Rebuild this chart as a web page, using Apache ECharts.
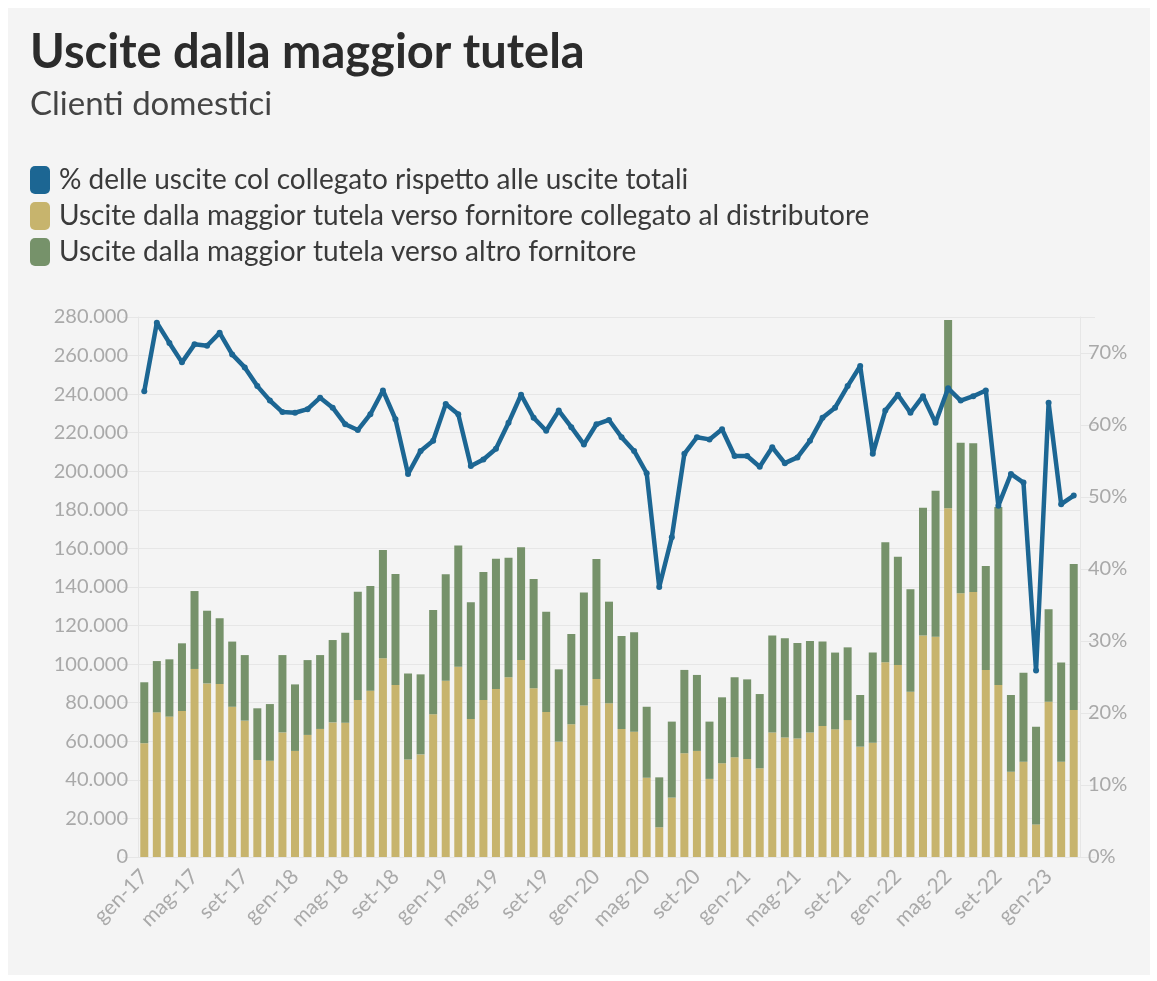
<!DOCTYPE html>
<html>
<head>
<meta charset="utf-8">
<script src="https://cdn.jsdelivr.net/npm/echarts@6/dist/echarts.min.js"></script>
<style>
  body { margin: 0; background: #fff; }
  #wrap { position: relative; width: 1157px; height: 981px; }
  #panel { position: absolute; left: 8px; top: 8px; width: 1142px; height: 967px; background: #f4f4f4; }
  #chart { position: absolute; left: 0; top: 0; width: 1157px; height: 981px; }
</style>
</head>
<body>
<div id="wrap"><div id="panel"></div><div id="chart"></div></div>
<script>
// mesi da gen-17 a mar-23
var mesi = ['gen', 'feb', 'mar', 'apr', 'mag', 'giu', 'lug', 'ago', 'set', 'ott', 'nov', 'dic'];
var anni = ['17', '18', '19', '20', '21', '22', '23'];
var categorie = [];
anni.forEach(function (a) {
    mesi.forEach(function (m) { categorie.push(m + '-' + a); });
});
categorie = categorie.slice(0, 75);

// uscite verso fornitore collegato al distributore
var collegato = [
    59000, 75000, 72800, 75700, 97500, 90000, 89700, 77900, 70700, 50300, 49900, 64600,
    55000, 63300, 66400, 69800, 69600, 81400, 86200, 103000, 89200, 50600, 53200, 74000,
    91400, 98700, 71600, 81400, 87100, 93200, 102100, 87500, 75200, 59800, 68800, 78500,
    92300, 79700, 66400, 65000, 41100, 15400, 30800, 53800, 55000, 40500, 48600, 51700,
    50800, 46000, 64600, 61900, 61500, 64500, 67900, 66200, 71000, 57200, 59300, 101000,
    99600, 85700, 114800, 114200, 180800, 136700, 137400, 97000, 89200, 44200, 49400, 16900,
    80500, 49400, 76200
];
// uscite verso altro fornitore
var altro = [
    31600, 26600, 29700, 35100, 40400, 37700, 34100, 33800, 34000, 26800, 29400, 40100,
    34500, 38800, 38300, 42700, 46700, 56200, 54300, 56200, 57500, 44600, 41500, 54100,
    55200, 62800, 60500, 66400, 67600, 62000, 58500, 56700, 52000, 37500, 46800, 58600,
    62200, 52700, 48200, 51500, 36800, 25900, 39400, 43200, 39400, 29700, 34200, 41500,
    41300, 38500, 50200, 51500, 49500, 47500, 43800, 39800, 37700, 26800, 46800, 62200,
    56100, 53100, 66300, 75700, 97600, 78100, 77100, 53900, 92300, 39800, 46200, 50700,
    47900, 51400, 75700
];
// % delle uscite col collegato
var percentuale = [
    64.7, 74.2, 71.4, 68.7, 71.2, 71.0, 72.8, 69.8, 68.0, 65.4, 63.4, 61.8,
    61.7, 62.2, 63.8, 62.4, 60.1, 59.3, 61.5, 64.8, 60.8, 53.2, 56.4, 57.8,
    62.9, 61.5, 54.3, 55.2, 56.7, 60.3, 64.2, 61.0, 59.2, 62.0, 59.7, 57.3,
    60.1, 60.7, 58.3, 56.4, 53.3, 37.5, 44.4, 56.0, 58.3, 58.0, 59.4, 55.7,
    55.7, 54.2, 56.9, 54.7, 55.5, 57.8, 61.0, 62.4, 65.4, 68.2, 56.0, 62.0,
    64.2, 61.7, 64.0, 60.3, 65.1, 63.4, 64.0, 64.8, 48.8, 53.2, 52.0, 25.9,
    63.1, 49.0, 50.2
];

var nomi = [
    '% delle uscite col collegato rispetto alle uscite totali',
    'Uscite dalla maggior tutela verso fornitore collegato al distributore',
    'Uscite dalla maggior tutela verso altro fornitore'
];

function migliaia(v) {
    return String(v).replace(/\B(?=(\d{3})+(?!\d))/g, '.');
}

var font = 'Lato';
var grigio = '#a9a9a9';
var griglia = '#e6e6e6';

var myChart = echarts.init(document.getElementById('chart'));
var option = {
    backgroundColor: 'transparent',
    textStyle: { fontFamily: font },
    title: [{
        text: 'Uscite dalla maggior tutela',
        left: 25, top: 24,
        textStyle: { fontSize: 47, fontWeight: 'bold', color: '#2b2b2b', fontFamily: font }
    }, {
        text: 'Clienti domestici',
        left: 25, top: 83,
        textStyle: { fontSize: 33, fontWeight: 'normal', color: '#444', fontFamily: font }
    }],
    legend: {
        data: nomi,
        orient: 'vertical',
        left: 25, top: 161,
        itemWidth: 20, itemHeight: 28, itemGap: 8,
        icon: 'roundRect',
        selectedMode: false,
        textStyle: { fontSize: 28, color: '#3a3a3a', fontFamily: font, padding: [0, 0, 0, 4] }
    },
    grid: { left: 138, right: 77, top: 317, bottom: 124 },
    xAxis: {
        type: 'category',
        data: categorie,
        axisLine: { lineStyle: { color: griglia } },
        axisTick: { alignWithLabel: true, interval: 0, length: 10, lineStyle: { color: griglia } },
        axisLabel: { interval: 3, rotate: 45, color: grigio, fontSize: 21, margin: 16, fontFamily: font }
    },
    yAxis: [{
        type: 'value',
        min: 0, max: 280000, interval: 20000,
        axisLine: { show: true, lineStyle: { color: griglia } },
        axisTick: { show: true, length: 15, lineStyle: { color: griglia } },
        splitLine: { lineStyle: { color: griglia } },
        axisLabel: { color: grigio, fontSize: 20, margin: 10, fontFamily: font, formatter: migliaia }
    }, {
        type: 'value',
        min: 0, max: 75, interval: 10,
        axisLine: { show: true, lineStyle: { color: griglia } },
        axisTick: { show: true, length: 15, lineStyle: { color: griglia } },
        splitLine: { show: false },
        axisLabel: {
            color: grigio, fontSize: 20, margin: 8, fontFamily: font,
            formatter: function (v) { return v % 10 === 0 ? v + '%' : ''; }
        }
    }],
    series: [{
        name: nomi[1],
        type: 'bar',
        stack: 'uscite',
        barWidth: 8,
        itemStyle: { color: '#c7b46d' },
        data: collegato
    }, {
        name: nomi[2],
        type: 'bar',
        stack: 'uscite',
        barWidth: 8,
        itemStyle: { color: '#76926a' },
        data: altro
    }, {
        name: nomi[0],
        type: 'line',
        yAxisIndex: 1,
        symbol: 'circle',
        symbolSize: 6,
        z: 5,
        lineStyle: { width: 4.5, color: '#1c6693' },
        itemStyle: { color: '#1c6693' },
        data: percentuale
    }]
};
myChart.setOption(option);
</script>
</body>
</html>
